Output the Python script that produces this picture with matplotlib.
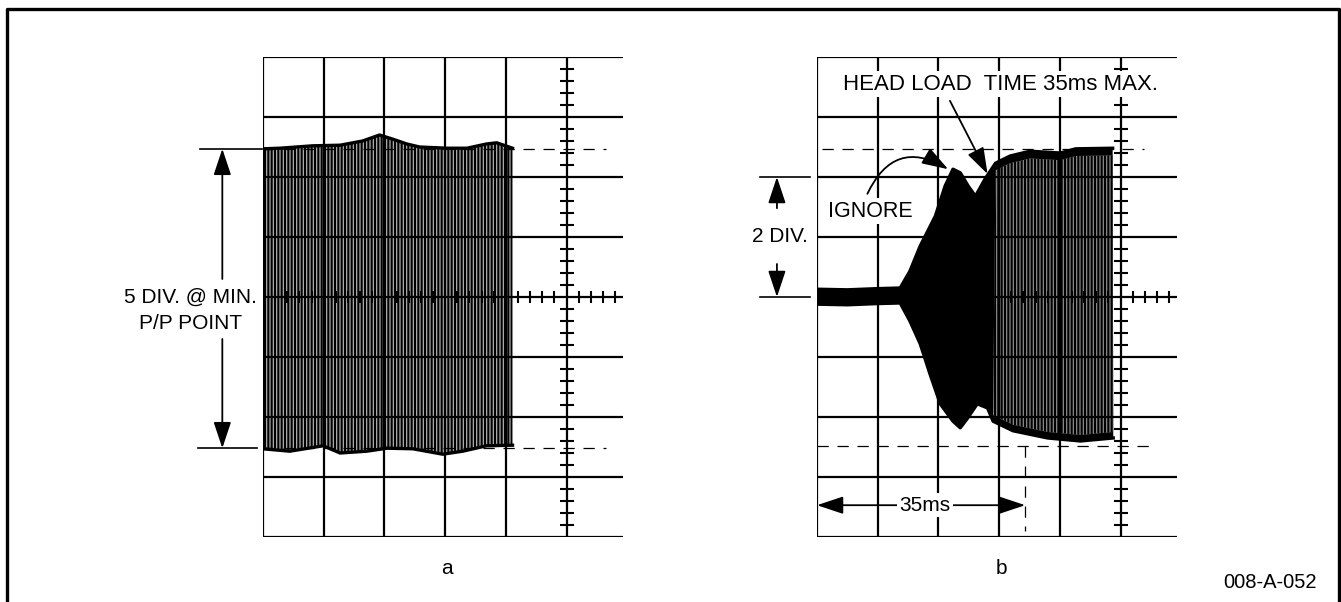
import numpy as np
import matplotlib
matplotlib.use("Agg")
import matplotlib.pyplot as plt
from matplotlib.lines import Line2D

plt.rcParams["font.family"] = ["Liberation Sans", "DejaVu Sans"]
plt.rcParams["hatch.linewidth"] = 1.5

INK = "black"
W, H = 1341, 602

# scope a: envelope of the read signal (divisions, centre = 0)
a_up_x = [0, 0.28, 0.82, 1.27, 1.64, 1.92, 2.14, 2.37, 2.58, 3.03, 3.36, 3.68, 3.85, 4.11]
a_up_y = [2.47, 2.48, 2.52, 2.53, 2.60, 2.70, 2.63, 2.55, 2.50, 2.48, 2.48, 2.55, 2.57, 2.48]
a_lo_x = [0, 0.44, 0.99, 1.27, 1.71, 2.04, 2.47, 2.96, 3.29, 3.68, 4.11]
a_lo_y = [-2.53, -2.57, -2.48, -2.60, -2.57, -2.52, -2.53, -2.62, -2.57, -2.48, -2.47]

# scope b: head load transient
b_up_x = [0, 0.5, 1.0, 1.37, 1.53, 1.70, 1.95, 2.11, 2.24, 2.36, 2.49, 2.61, 2.77, 2.94,
          3.18, 3.51, 4.01, 4.26, 4.87]
b_up_y = [0.13, 0.12, 0.14, 0.15, 0.43, 0.85, 1.35, 1.85, 2.13, 2.07, 1.85, 1.68, 1.97, 2.23,
          2.35, 2.43, 2.40, 2.47, 2.48]
b_lo_x = [0, 0.5, 1.0, 1.37, 1.53, 1.70, 1.86, 2.03, 2.24, 2.36, 2.48, 2.64, 2.81, 2.90,
          3.23, 3.80, 4.34, 4.88]
b_lo_y = [-0.12, -0.13, -0.11, -0.10, -0.40, -0.78, -1.28, -1.78, -2.07, -2.18, -2.02, -1.78,
          -1.85, -2.07, -2.23, -2.35, -2.40, -2.35]

a_level = [2.47, -2.52]      # min p/p dashed levels
b_level = [2.47, -2.48]
b_div_ref = [2, 0]           # "2 DIV." span
t_head = 3.43                # 35 ms mark (div, 10 ms/div)

XMAX = 5.93

fig = plt.figure(figsize=(W / 100, H / 100), dpi=100)


def scope(x0):
    ax = fig.add_axes([x0 / W, 1 - 537 / H, 360 / W, 480 / H])
    ax.set_xlim(0, XMAX); ax.set_ylim(-4, 4); ax.axis("off")
    g = dict(color=INK, lw=1.6, zorder=5, solid_capstyle="butt")
    for x in range(0, 6):
        ax.plot([x, x], [-4, 4], **g)
    for y in range(-4, 5):
        ax.plot([0, XMAX], [y, y], **g)
    ty = [v for v in np.arange(-3.8, 3.9, 0.2) if abs(v - round(v)) > 0.05]
    ax.plot([5] * len(ty), ty, ls="none", marker="_", ms=9.5, mew=1.5, color=INK, zorder=6)
    tx = [v for v in np.arange(0.2, 5.85, 0.2) if abs(v - round(v)) > 0.05]
    ax.plot(tx, [0] * len(tx), ls="none", marker="|", ms=8, mew=1.5, color=INK, zorder=6)
    return ax


def envelope(ax, ux, uy, lx, ly, **kw):
    ax.fill(list(ux) + list(lx[::-1]), list(uy) + list(ly[::-1]), lw=0, zorder=2, **kw)
    ax.plot(ux, uy, color=INK, lw=2.4, zorder=3)
    ax.plot(lx, ly, color=INK, lw=2.4, zorder=3)


dash = dict(color=INK, lw=0.9, ls=(0, (9, 7)), zorder=4, clip_on=False)
txt = dict(fontsize=15, color=INK, ha="center", va="center")
bg = dict(boxstyle="square,pad=0.12", fc="white", ec="none")
head = dict(arrowstyle="-|>,head_length=0.9,head_width=0.3", color=INK, lw=1.3,
            mutation_scale=18, shrinkA=0, shrinkB=0)

# ---- scope a ----
axA = scope(263)
envelope(axA, a_up_x, a_up_y, a_lo_x, a_lo_y, facecolor="#b0b0b0", edgecolor=INK, hatch="|||||")
for lv in a_level:
    axA.plot([0, 5.65], [lv, lv], **dash)
xa = -0.67
axA.plot([-1.04, -0.02], [a_level[0]] * 2, color=INK, lw=1.2, clip_on=False)
axA.plot([-1.07, -0.1], [a_level[1]] * 2, color=INK, lw=1.2, clip_on=False)
axA.annotate("", xy=(xa, a_level[0]), xytext=(xa, 0.3), arrowprops=head, annotation_clip=False)
axA.annotate("", xy=(xa, a_level[1]), xytext=(xa, -0.7), arrowprops=head, annotation_clip=False)
axA.text(-1.2, 0.0, "5 DIV. @ MIN.", **txt)
axA.text(-1.2, -0.44, "P/P POINT", **txt)
axA.text(3.03, -4.52, "a", **txt)

# ---- scope b ----
axB = scope(817)
envelope(axB, b_up_x, b_up_y, b_lo_x, b_lo_y, facecolor=INK)
m_up = [i for i, v in enumerate(b_up_x) if v >= 2.9]
m_lo = [i for i, v in enumerate(b_lo_x) if v >= 2.9]
axB.fill([b_up_x[i] for i in m_up] + [b_lo_x[i] for i in m_lo][::-1],
         [b_up_y[i] - 0.12 for i in m_up] + [b_lo_y[i] + 0.1 for i in m_lo][::-1],
         facecolor="#8a8a8a", edgecolor=INK, hatch="|||||", lw=0, zorder=2)
axB.plot([0.08, 5.38], [b_level[0]] * 2, **dash)
axB.plot([0, 5.6], [b_level[1]] * 2, **dash)
axB.plot([t_head, t_head], [b_level[1], -3.9], **dash)

xb = -0.66
for lv in b_div_ref:
    axB.plot([-0.94, -0.12], [lv, lv], color=INK, lw=1.2, clip_on=False)
axB.annotate("", xy=(xb, b_div_ref[0]), xytext=(xb, 1.48), arrowprops=head, annotation_clip=False)
axB.annotate("", xy=(xb, b_div_ref[1]), xytext=(xb, 0.55), arrowprops=head, annotation_clip=False)
axB.text(-0.61, 1.0, "2 DIV.", **txt)

twin = dict(head, arrowstyle="<|-|>,head_length=0.9,head_width=0.3")
axB.annotate("", xy=(t_head, -3.47), xytext=(0, -3.47), arrowprops=twin, annotation_clip=False)
axB.text(1.78, -3.47, "35ms", bbox=bg, zorder=7, **txt)

axB.text(0.87, 1.43, "IGNORE", bbox=bg, zorder=7, **dict(txt, fontsize=15.5))
axB.annotate("", xy=(2.16, 2.13), xytext=(0.83, 1.72),
             arrowprops=dict(head, connectionstyle="arc3,rad=-0.55"), annotation_clip=False)
axB.text(3.02, 3.55, "HEAD LOAD  TIME 35ms MAX.", bbox=bg, zorder=7, **dict(txt, fontsize=16))
axB.annotate("", xy=(2.81, 2.05), xytext=(2.19, 3.27), arrowprops=head, annotation_clip=False)
axB.text(3.04, -4.52, "b", **txt)

# ---- frame ----
fr = dict(color=INK, lw=2.4, transform=fig.transFigure)
fig.add_artist(Line2D([7 / W, 7 / W, 1339 / W, 1339 / W], [0, 1 - 9 / H, 1 - 9 / H, 0], **fr))
fig.text(1270 / W, 1 - 583 / H, "008-A-052", fontsize=14.5, ha="center", va="center")

fig.savefig("out.png", dpi=100)
